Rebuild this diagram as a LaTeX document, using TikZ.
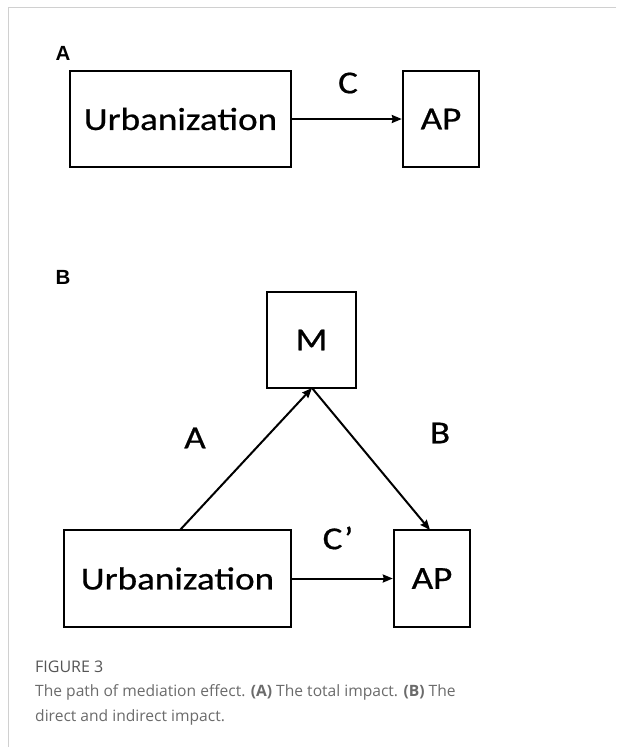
\documentclass[tikz,border=0pt]{standalone}
\usepackage{fontspec}
\usepackage{graphicx}
\setmainfont{Carlito}
\newfontfamily\heavy{Carlito}[FakeBold=0.6]
\newfontfamily\capfont{Open Sans}
\newfontfamily\lblfont{Liberation Sans}
\usetikzlibrary{arrows.meta}
\definecolor{frame}{HTML}{D0D0D0}
\definecolor{captxt}{HTML}{6B6B6B}
\definecolor{capfig}{HTML}{555555}
\newcommand{\widetxt}[1]{\scalebox{1.16}[1]{#1}}
\begin{document}
\begin{tikzpicture}[x=1pt,y=-1pt,
  box/.style={draw=black,line width=2.4pt,inner sep=0pt},
  conn/.style={line width=2pt,-{Stealth[length=10pt,width=8pt,inset=1pt]}},
  lbl/.style={font=\heavy\fontsize{32}{33}\selectfont,inner sep=0pt},
  panel/.style={font=\lblfont\bfseries\fontsize{20.5}{21}\selectfont,inner sep=0pt},
  captext/.style={font=\capfont\fontsize{15.6}{25}\selectfont,text=captxt,anchor=north west,inner sep=0pt,align=left}]
\useasboundingbox (0,0) rectangle (616,747);
\fill[white] (0,0) rectangle (616,747);
\draw[frame,line width=1pt] (616,7) -- (8.5,7) -- (8.5,747);
% Panel A
\node[panel] (pA) at (63,53) {A};
\node[box,minimum width=221pt,minimum height=96pt] (u1) at (180.5,119) {};
\node[lbl] (u1t) at (u1.center) {\widetxt{Urbanization}};
\node[box,minimum width=76pt,minimum height=96pt] (ap1) at (441,119) {};
\node[lbl] (ap1t) at (ap1.center) {\widetxt{AP}};
\draw[conn] (u1.east) -- (ap1.west);
\node[lbl] (c1) at (348,83) {\widetxt{C}};
% Panel B
\node[panel] (pB) at (63,277) {B};
\node[box,minimum width=89pt,minimum height=96pt] (m) at (311.5,340) {};
\node[lbl] (mt) at (m.center) {\widetxt{M}};
\node[box,minimum width=227pt,minimum height=97pt] (u2) at (177.5,578.5) {};
\node[lbl] (u2t) at (u2.center) {\widetxt{Urbanization}};
\node[box,minimum width=76pt,minimum height=97pt] (ap2) at (432,578.5) {};
\node[lbl] (ap2t) at (ap2.center) {\widetxt{AP}};
\coordinate (a0) at (180,530);
\coordinate (mb) at (312,388);
\coordinate (apt) at (430,530);
\draw[conn] (a0) -- (mb);
\draw[conn] (mb) -- (apt);
\draw[conn] (u2.east) -- (ap2.west);
\node[lbl] (la) at (195,438) {\widetxt{A}};
\node[lbl] (lb) at (440,433) {\widetxt{B}};
\node[lbl] (lc) at (338,538) {\widetxt{C’}};
% Caption
\node[font=\capfont\fontsize{16}{17}\selectfont,text=capfig,anchor=west,inner sep=0pt] (fig) at (35,667) {FIGURE 3};
\node[captext] (captxt) at (35,684) {The path of mediation effect. \textbf{(A)} The total impact. \textbf{(B)} The\\direct and indirect impact.};
\end{tikzpicture}
\end{document}
